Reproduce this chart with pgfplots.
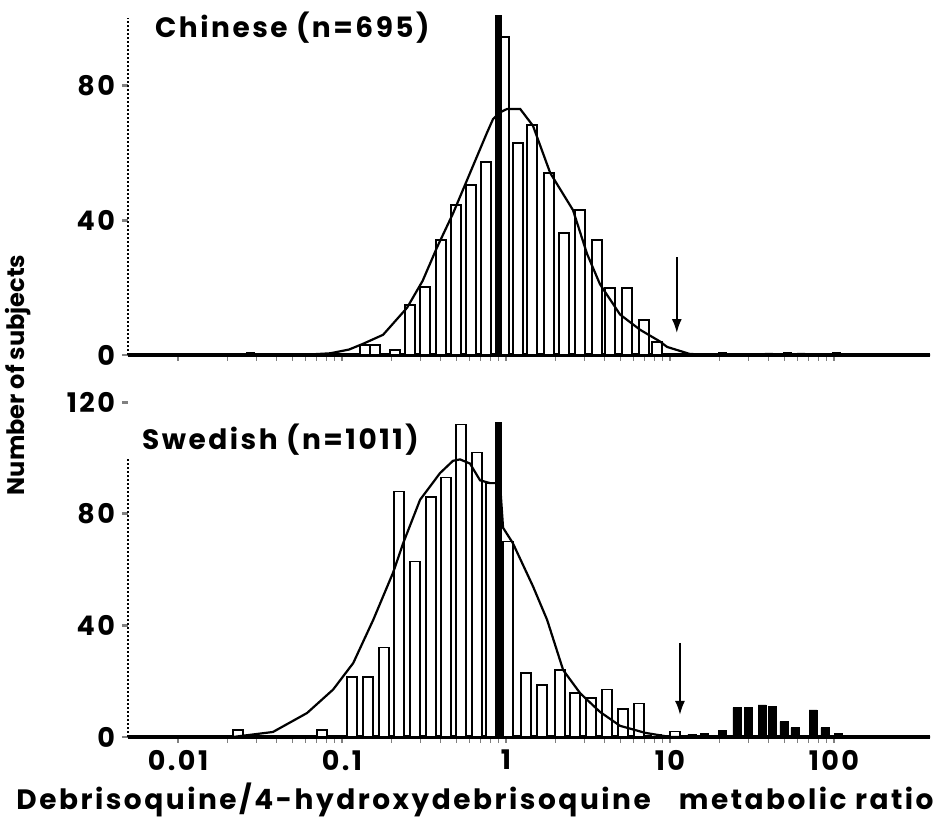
\documentclass[border=0pt]{standalone}
\usepackage{fontspec}
\setmainfont{Poppins}
\newfontfamily\wide[LetterSpace=9]{Poppins}
\usepackage{pgfplots}
\pgfplotsset{compat=1.18}
\usetikzlibrary{arrows.meta}

\pgfplotsset{
  histbar/.style={ybar, bar shift=0pt, bar width=5pt, fill=white, draw=black, line width=0.7pt},
  pmbar/.style={ybar, bar shift=0pt, bar width=4pt, fill=black, draw=black, line width=0.4pt},
  fitcurve/.style={black, line width=1.1pt},
}

\begin{document}
\begin{tikzpicture}
\useasboundingbox (-64pt,-43pt) rectangle (410pt,368.5pt);

% ---------------- Chinese ----------------
\begin{axis}[xmode=log,
  scale only axis, width=401pt, height=168.5pt,
  xmin=0.00495, xmax=385, ymin=0, ymax=100,
  axis x line*=bottom, axis y line*=left,
  x axis line style={line width=1.8pt},
  y axis line style={draw=none},
  xtick={0.01,0.1,1,10,100}, xticklabels={},
  ytick={0,40,80}, yticklabels={0,40,80},
  tick align=outside, major tick length=3pt,
  xtick style={line width=0.6pt},
  ytick style={line width=1.4pt},
  /pgf/number format/assume math mode=true,
  tick label style={font=\wide\bfseries\fontsize{13.5}{13.5}\selectfont},
  clip=false,
  at={(0pt,191pt)}, anchor=south west]
  \draw[densely dotted, line width=1pt] (axis cs:0.00495,0) -- (axis cs:0.00495,100);
  \addplot[histbar] coordinates {
    (0.138,3) (0.159,3) (0.210,1.5)
    (0.260,14.8) (0.321,20.2) (0.402,34.1) (0.496,44.5) (0.612,50.4) (0.755,57.3)
    (0.972,94.4) (1.18,62.9) (1.44,68.2) (1.83,54) (2.26,36.2) (2.83,43)
    (3.59,34.1) (4.31,19.9) (5.47,19.9) (6.94,10.4) (8.33,3.9)
  };
  \addplot[pmbar] coordinates {
    (0.0275,0.8) (21,0.8) (40,0.6) (52,0.7) (63,0.6) (104,0.7)
  };
  \addplot[fitcurve] coordinates {
    (0.00495,0) (0.0555,0) (0.0845,0.5) (0.110,1.6) (0.134,3.3) (0.178,6)
    (0.249,14) (0.310,22) (0.380,32) (0.475,42) (0.603,54) (0.766,66)
    (0.833,70) (0.92,72) (1.014,73) (1.22,73) (1.46,68) (1.86,54)
    (2.56,43) (3.12,30) (3.74,21) (4.96,12) (6.56,7.5) (8.69,4)
    (9.59,2.4) (13.2,0.3) (20.2,0) (385,0)
  };
  \addplot[line width=3.5pt] coordinates {(0.9,0) (0.9,101)};
  \draw[-{Latex[length=7pt,width=5pt]}, line width=1pt] (axis cs:11,29) -- (axis cs:11,6.5);
  \node[anchor=west, font=\wide\bfseries\fontsize{14}{14}\selectfont] at (axis cs:0.00656,97) {Chinese (n=695)};
\end{axis}

% ---------------- Swedish ----------------
\begin{axis}[xmode=log,
  scale only axis, width=401pt, height=167.4pt,
  xmin=0.00495, xmax=385, ymin=0, ymax=120,
  axis x line*=bottom, axis y line*=left,
  x axis line style={line width=1.8pt},
  y axis line style={draw=none},
  xtick={0.01,0.1,1,10,100}, xticklabels={0.01,0.1,1,10,100},
  ytick={0,40,80,120}, yticklabels={0,40,80,120},
  tick align=outside, major tick length=3pt,
  xtick style={line width=0.6pt},
  ytick style={line width=1.4pt},
  /pgf/number format/assume math mode=true,
  tick label style={font=\wide\bfseries\fontsize{13.5}{13.5}\selectfont},
  clip=false,
  at={(0pt,0pt)}, anchor=south west]
  \draw[densely dotted, line width=1pt] (axis cs:0.00495,0) -- (axis cs:0.00495,100);
  \addplot[histbar] coordinates {
    (0.0232,2.5) (0.0755,2.5)
    (0.115,21.5) (0.144,21.5) (0.180,32) (0.223,88) (0.279,63) (0.349,86)
    (0.431,93) (0.532,112) (0.666,102) (0.808,91)
    (1.03,70) (1.32,23) (1.66,18.6) (2.13,24) (2.64,15.7) (3.30,14)
    (4.13,17) (5.17,10) (6.47,12) (8.22,0.8) (10.7,2)
  };
  \addplot[pmbar] coordinates {
    (13.6,1) (16.3,1.2) (20.8,2.5) (25.6,10.5) (29.9,10.5) (36.4,11.5)
    (41.9,10.8) (49.5,5.5) (57.8,3.3) (74.5,9.7) (88.1,3.3) (106,1.4)
  };
  \addplot[fitcurve] coordinates {
    (0.00495,0) (0.0216,0) (0.0379,1.8) (0.0612,8.6) (0.0882,17) (0.117,26.5)
    (0.155,42) (0.205,59) (0.236,69.5) (0.299,85) (0.396,94.6) (0.475,99)
    (0.524,99.5) (0.603,98) (0.694,92) (0.799,91) (0.919,91) (0.959,75)
    (1.10,69.5) (1.46,54) (1.78,42) (2.23,24) (2.83,15.7) (3.74,9)
    (4.96,4) (7.04,1.5) (10,0) (385,0)
  };
  \addplot[line width=3.5pt] coordinates {(0.9,0) (0.9,113)};
  \draw[-{Latex[length=7pt,width=5pt]}, line width=1pt] (axis cs:11.5,33.7) -- (axis cs:11.5,7.9);
  \node[anchor=west, font=\wide\bfseries\fontsize{14}{14}\selectfont] at (axis cs:0.00547,106.5) {Swedish (n=1011)};
\end{axis}

\node[rotate=90, font=\bfseries\fontsize{12}{12}\selectfont] at (-55pt,181pt) {Number of subjects};
\node[font=\wide\bfseries\fontsize{14}{14}\selectfont] at (173.5pt,-31.5pt) {Debrisoquine/4-hydroxydebrisoquine\quad metabolic ratio};
\end{tikzpicture}
\end{document}
